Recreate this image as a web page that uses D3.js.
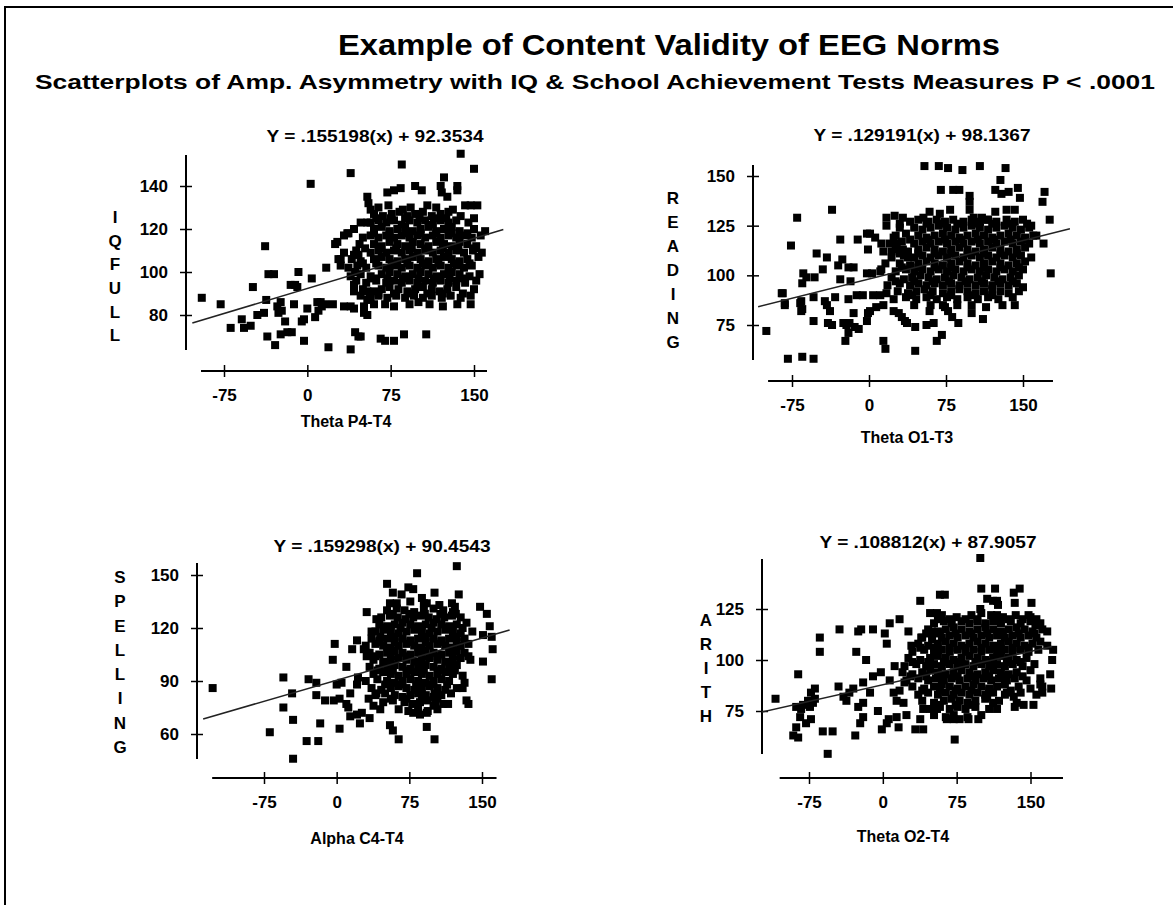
<!DOCTYPE html>
<html>
<head>
<meta charset="utf-8">
<script src="https://cdn.jsdelivr.net/npm/d3@7"></script>
<style>
  body { margin: 0; background: #fff; }
  svg text { font-family: "Liberation Sans", Arial, sans-serif; font-weight: bold; fill: #000; }
  .tick text { font-size: 17px; }
</style>
</head>
<body>
<svg id="chart" width="1173" height="905"></svg>
<script>
// ---- text ----
const mainTitle = "Example of Content Validity of EEG Norms";
const subTitle = "Scatterplots of Amp. Asymmetry with IQ & School Achievement Tests Measures P < .0001";

const xTickValues = [-75, 0, 75, 150];
const iqTicks = [80, 100, 120, 140];
const readingTicks = [75, 100, 125, 150];
const spellingTicks = [60, 90, 120, 150];
const arithTicks = [75, 100, 125];

const yTitles = ["IQFULL", "READING", "SPELLING", "ARITH"];
const xTitles = ["Theta P4-T4", "Theta O1-T3", "Alpha C4-T4", "Theta O2-T4"];
const slopes = [.155198, .129191, .159298, .108812];
const intercepts = [92.3534, 98.1367, 90.4543, 87.9057];
const equations = ["Y = .155198(x) + 92.3534", "Y = .129191(x) + 98.1367",
                   "Y = .159298(x) + 90.4543", "Y = .108812(x) + 87.9057"];

// ---- points ----
const iqPoints = [
  [-95,88],[-78,85],[-69,74],[-59,78],[-57,74],[-51,75],[-49,93],[-45,80],[-39,81],[-38,112],[-37,87],[-36,70],
  [-35,99],[-30,99],[-29,66],[-27,84],[-26,81],[-24,86],[-23,82],[-24,71],[-18,72],[-14,72],[-20,77],[-15,94],
  [-11,94],[-9,93],[-8,100],[-12,85],[-5,77],[-3,78],[-3,68],[0,83],[3,141],[4,97],[7,79],[9,86],[10,82],[12,86],
  [13,84],[16,85],[17,102],[19,65],[23,85],[25,113],[30,106],[33,117],[36,118],[33,84],[39,84],[42,83],[39,146],
  [39,64],[43,72],[46,70],[48,70],[51,81],[54,80],[54,87],[66,69],[70,68],[78,68],[87,71],[107,71],
  [85,150],[138,155],[150,148],[123,144],[135,140],[135,138],[120,140],[121,137],[126,135],[97,140],[103,138],
  [72,137],[78,138],[84,139],[54,135],[55,132],[57,129],[142,131],[147,131],[153,131],[150,125],[160,119],
  [27,114],[37,118],[42,120],[48,123],[54,123],[28,106],[33,109],[42,108],[46,108],[30,103],[37,102],[43,100],
  [39,98],[42,94],[42,91],[48,89],[54,91],[57,88],[51,84],
  [64,130],[73,131],[86,129],[93,130],[108,131],[116,130],[131,129],
  [60,127],[68,126],[76,127],[83,128],[90,126],[97,127],[104,128],[112,126],[120,127],[127,128],[138,126],
  [57,123],[64,124],[71,123],[78,124],[85,122],[92,124],[99,123],[106,124],[113,122],[120,124],[127,123],[134,124],[145,123],
  [60,120],[67,121],[74,119],[81,120],[88,121],[95,119],[102,120],[109,121],[116,119],[123,120],[130,121],[137,119],[150,120],
  [50,116],[57,117],[64,116],[71,117],[78,116],[85,117],[92,116],[99,117],[106,116],[113,117],[120,116],[127,117],[134,116],[141,117],[148,116],[156,117],
  [47,113],[60,113],[67,112],[74,114],[81,113],[88,112],[95,114],[102,113],[109,112],[116,114],[123,113],[130,112],[137,114],[144,113],[152,112],
  [44,110],[57,109],[64,110],[71,109],[78,110],[85,109],[92,110],[99,109],[106,110],[113,109],[120,110],[127,109],[134,110],[141,109],[149,110],[157,109],
  [40,106],[48,105],[60,106],[67,107],[74,106],[81,105],[88,106],[95,107],[102,106],[109,105],[116,106],[123,107],[130,106],[137,105],[144,106],[154,107],
  [45,103],[53,102],[64,103],[71,102],[78,103],[85,102],[92,103],[99,102],[106,103],[113,102],[120,103],[127,102],[134,103],[141,102],[148,103],
  [48,99],[57,98],[67,99],[74,100],[81,99],[88,98],[95,99],[102,100],[109,99],[116,98],[123,99],[130,100],[137,99],[146,98],[155,99],
  [44,96],[53,95],[62,96],[71,95],[78,96],[85,95],[92,96],[99,95],[106,96],[113,95],[120,96],[127,95],[134,96],[142,95],[152,96],
  [50,92],[60,91],[67,92],[74,93],[82,92],[90,91],[97,92],[104,93],[112,92],[119,91],[126,92],[134,93],[150,92],
  [56,88],[64,89],[72,88],[80,89],[88,88],[96,89],[104,88],[112,89],[121,88],[129,89],[138,88],[147,89],
  [60,85],[70,85],[78,84],[92,85],[100,86],[110,85],[122,84],[135,85],[147,85],
  [62,125],[75,125],[88,125],[101,125],[114,125],[125,125],
  [60,118],[74,118],[88,118],[102,118],[116,118],[130,118],[144,118],
  [52,111],[66,111],[80,111],[94,111],[108,111],[122,111],[136,111],[150,111],
  [50,104],[62,104],[76,104],[90,104],[104,104],[118,104],[132,104],[146,104],
  [60,97],[72,97],[86,97],[100,97],[114,97],[128,97],[140,97],
  [64,90],[78,90],[92,90],[108,90],[122,90],[140,90]
];

const readingPoints = [
  [54,155],[68,155],[77,154],[91,153],[108,155],[133,154],[70,143],[82,143],[88,143],[98,140],[98,137],[128,148],
  [123,143],[129,141],[136,142],[145,144],[147,139],[171,142],[169,137],[176,128],[170,116],[177,101],[-70,129],
  [-36,133],[-76,115],[-51,111],[-41,109],[-28,118],[-11,118],[-2,121],[-1,113],[-64,101],[-61,99],[-53,99],
  [-65,96],[-45,103],[-30,105],[-26,108],[-20,104],[-15,104],[-28,98],[-18,97],[-2,101],[3,101],[11,102],[-85,91],
  [-82,86],[-67,86],[-66,82],[-65,83],[-54,89],[-43,87],[-38,82],[-33,89],[-20,88],[-12,90],[-6,90],[4,90],[11,90],
  [17,91],[17,129],[25,130],[17,125],[33,129],[30,126],[1,121],[6,119],[12,116],[14,112],[22,112],[24,119],[27,116],
  [33,113],[38,109],[53,129],[59,132],[69,131],[79,133],[98,133],[102,129],[110,129],[115,128],[123,132],[134,133],
  [142,133],[154,126],[158,125],[163,120],
  [-100,72],[-79,58],[-65,59],[-54,58],[-84,91],[-82,85],[-66,87],[-54,77],[-41,85],[-40,76],[-36,75],[-25,76],
  [-22,75],[-19,76],[-15,81],[-14,74],[-10,73],[-20,71],[-23,67],[-2,77],[1,82],[-1,81],[7,84],[14,67],[16,63],
  [14,85],[24,82],[29,81],[32,79],[35,77],[37,76],[45,74],[45,62],[56,75],[63,76],[66,67],[71,70],[59,82],[72,85],
  [77,82],[81,79],[87,76],[100,81],[111,78],[142,85],[150,94],
  [40,127],[48,128],[58,127],[66,128],[74,127],[82,128],[92,127],[100,128],[108,127],[116,128],[124,127],[134,128],[142,127],[150,128],
  [30,124],[44,124],[52,123],[60,124],[68,125],[76,124],[84,123],[92,124],[100,125],[108,124],[116,123],[124,124],[132,125],[140,124],[148,123],[156,124],
  [26,120],[36,121],[48,120],[56,119],[64,120],[72,121],[80,120],[88,119],[96,120],[104,121],[112,120],[120,119],[128,120],[136,121],[144,120],[152,119],[160,120],
  [20,116],[32,117],[44,116],[52,117],[60,116],[68,117],[76,116],[84,117],[92,116],[100,117],[108,116],[116,117],[124,116],[132,117],[140,116],[148,117],[156,116],
  [26,113],[38,112],[48,113],[56,114],[64,113],[72,112],[80,113],[88,114],[96,113],[104,112],[112,113],[120,114],[128,113],[136,112],[144,113],[152,114],
  [22,109],[34,110],[44,109],[52,110],[60,109],[68,110],[76,109],[84,110],[92,109],[100,110],[108,109],[116,110],[124,109],[132,110],[140,109],[148,110],[158,109],
  [16,106],[30,106],[40,105],[48,106],[56,107],[64,106],[72,105],[80,106],[88,107],[96,106],[104,105],[112,106],[120,107],[128,106],[136,105],[144,106],[152,107],
  [12,103],[26,102],[36,103],[44,102],[52,103],[60,102],[68,103],[76,102],[84,103],[92,102],[100,103],[108,102],[116,103],[124,102],[132,103],[140,102],[150,103],
  [22,99],[34,98],[42,99],[50,100],[58,99],[66,98],[74,99],[82,100],[90,99],[98,98],[106,99],[114,100],[122,99],[130,98],[138,99],[146,100],
  [18,95],[30,96],[40,95],[48,96],[56,95],[64,96],[72,95],[80,96],[88,95],[96,96],[104,95],[112,96],[120,95],[128,96],[136,95],[144,96],
  [28,92],[38,91],[46,92],[54,93],[62,92],[72,91],[80,92],[88,93],[96,92],[104,91],[112,92],[120,93],[128,92],[136,91],[146,92],
  [24,88],[36,89],[46,88],[56,89],[66,88],[76,89],[86,88],[96,89],[106,88],[116,89],[126,88],[140,89],
  [44,85],[60,85],[74,84],[86,85],[100,85],[114,84],[130,85],
  [56,126],[70,126],[86,126],[104,126],[120,126],[138,126],
  [40,118],[58,118],[74,118],[90,118],[106,118],[122,118],[138,118],[152,118],
  [30,111],[48,111],[64,111],[80,111],[96,111],[112,111],[128,111],[144,111],
  [32,104],[48,104],[64,104],[80,104],[96,104],[112,104],[128,104],[146,104],
  [26,97],[44,97],[62,97],[78,97],[94,97],[110,97],[126,97],[140,97],
  [42,90],[60,90],[80,90],[100,90],[120,90]
];

const spellingPoints = [
  [-128,86],[-55,92],[-55,75],[-46,83],[-45,68],[-69,61],[-31,56],[-19,56],[-45,46],[-29,91],[-21,89],[-17,66],
  [3,63],[-21,82],[-12,79],[-3,79],[3,80],[10,77],[14,83],[0,88],[5,89],[-2,111],[-4,102],[10,98],[16,108],[21,113],
  [28,108],[12,75],[14,70],[21,71],[26,72],[24,66],[34,69],[45,74],[21,88],[22,92],[31,104],[36,118],[31,129],
  [41,125],[45,115],[33,80],[38,76],[41,83],[52,145],[58,140],[55,134],[55,65],[58,62],[64,57],[74,143],[79,142],
  [67,139],[88,137],[83,151],[101,140],[93,134],[124,155],[126,139],[122,132],[148,132],[155,128],[158,121],
  [160,115],[151,116],[161,108],[151,101],[160,91],[132,89],[130,86],[136,77],[134,79],[115,77],[93,64],[101,57],
  [79,72],[86,71],[93,72],[100,76],[101,83],
  [62,134],[76,135],[90,134],[106,133],[119,134],
  [52,130],[62,131],[70,130],[80,129],[90,130],[100,131],[110,130],[120,129],
  [46,126],[55,127],[63,126],[71,125],[79,126],[87,127],[95,126],[103,125],[111,126],[119,127],[128,126],
  [44,122],[52,121],[60,122],[68,123],[76,122],[84,121],[92,122],[100,123],[108,122],[116,121],[124,122],[134,123],
  [40,118],[48,119],[56,118],[64,117],[72,118],[80,119],[88,118],[96,117],[104,118],[112,119],[120,118],[128,117],[140,118],
  [36,114],[44,113],[52,114],[60,115],[68,114],[76,113],[84,114],[92,115],[100,114],[108,113],[116,114],[124,115],[132,114],
  [30,110],[40,111],[48,110],[56,109],[64,110],[72,111],[80,110],[88,109],[96,110],[104,111],[112,110],[120,109],[128,110],[136,111],
  [34,106],[44,105],[52,106],[60,107],[68,106],[76,105],[84,106],[92,107],[100,106],[108,105],[116,106],[124,107],[132,106],
  [38,102],[48,101],[56,102],[64,103],[72,102],[80,101],[88,102],[96,103],[104,102],[112,101],[120,102],[128,103],[138,102],
  [34,98],[44,97],[52,98],[60,99],[68,98],[76,97],[84,98],[92,99],[100,98],[108,97],[116,98],[124,99],
  [38,94],[48,95],[56,94],[64,93],[72,94],[80,95],[88,94],[96,93],[104,94],[112,95],[120,94],[130,93],
  [30,90],[42,91],[52,90],[60,89],[68,90],[76,91],[84,90],[92,89],[100,90],[108,91],[116,90],
  [36,86],[46,85],[56,86],[64,87],[72,86],[80,85],[88,86],[96,87],[104,86],[112,85],[124,86],
  [40,82],[50,83],[60,82],[68,81],[76,82],[84,83],[92,82],[100,81],[108,82],[118,83],
  [48,78],[58,79],[70,78],[78,77],[86,78],[94,79],[102,78],[110,77],
  [64,74],[74,73],[84,74],[94,73],[104,74],
  [58,128],[75,128],[91,128],[107,128],[123,128],
  [50,120],[66,120],[82,120],[98,120],[114,120],[130,120],
  [44,112],[60,112],[76,112],[92,112],[108,112],[124,112],
  [40,104],[56,104],[72,104],[88,104],[104,104],[120,104],[136,104],
  [42,96],[58,96],[74,96],[90,96],[106,96],[122,96],
  [50,88],[66,88],[82,88],[98,88],[114,88],
  [56,80],[72,80],[88,80],[104,80]
];

const arithPoints = [
  [-109,81],[-86,93],[-91,63],[-86,62],[-88,67],[-84,72],[-83,76],[-81,78],[-76,80],[-74,77],[-71,79],[-73,84],
  [-69,86],[-69,81],[-88,77],[-83,77],[-78,69],[-73,71],[-64,111],[-64,104],[-61,65],[-51,65],[-56,54],[-45,87],
  [-40,82],[-37,80],[-34,84],[-30,86],[-44,115],[-28,63],[-27,104],[-25,114],[-22,115],[-17,100],[-25,77],[-20,79],
  [-20,72],[-23,69],[-20,89],[-13,84],[-10,92],[-10,115],[-5,75],[-1,66],[4,69],[6,71],[-2,94],[2,113],[4,108],
  [7,118],[12,97],[17,120],[26,114],[7,90],[11,84],[14,80],[17,85],[21,79],[22,89],[14,72],[16,67],[24,73],[33,66],
  [41,66],[38,71],[41,76],[29,107],[39,111],[38,129],[48,123],[55,123],[50,114],[50,110],[58,132],[63,132],[73,61],
  [55,76],[65,71],[72,71],[78,71],[87,71],[97,71],[99,150],[100,135],[114,135],[106,130],[112,129],[116,129],
  [99,125],[117,127],[116,122],[133,133],[139,135],[134,128],[151,128],[148,122],[155,117],[167,114],[167,107],
  [170,93],[160,88],[162,84],[153,78],[143,78],[133,82],[134,77],[126,84],[116,76],[112,79],[106,82],[172,100],
  [173,105],[171,86],
  [60,122],[75,121],[90,122],[100,123],[110,122],[122,121],[135,122],[150,121],
  [52,118],[62,119],[70,118],[80,119],[88,118],[96,119],[104,118],[112,119],[120,118],[130,119],[140,118],[150,119],[160,118],
  [46,115],[56,114],[64,115],[72,116],[80,115],[88,114],[96,115],[104,116],[112,115],[120,114],[128,115],[136,116],[144,115],[152,114],[162,115],
  [40,111],[50,112],[60,111],[68,112],[76,111],[84,112],[92,111],[100,112],[108,111],[116,112],[124,111],[132,112],[140,111],[148,112],[156,111],
  [36,108],[46,107],[56,108],[64,109],[72,108],[80,107],[88,108],[96,109],[104,108],[112,107],[120,108],[128,109],[136,108],[144,107],[152,108],[160,109],
  [30,104],[42,105],[52,104],[60,105],[68,104],[76,105],[84,104],[92,105],[100,104],[108,105],[116,104],[124,105],[132,104],[140,105],[148,104],[158,105],
  [26,101],[38,100],[48,101],[56,102],[64,101],[72,100],[80,101],[88,102],[96,101],[104,100],[112,101],[120,102],[128,101],[136,100],[146,101],
  [22,97],[34,98],[44,97],[52,98],[60,97],[68,98],[76,97],[84,98],[92,97],[100,98],[108,97],[116,98],[124,97],[132,98],[142,97],[154,98],
  [20,94],[30,93],[40,94],[48,95],[56,94],[64,93],[72,94],[80,95],[88,94],[96,93],[104,94],[112,95],[120,94],[128,93],[136,94],[150,95],
  [24,90],[36,91],[46,90],[54,91],[62,90],[70,91],[78,90],[86,91],[94,90],[102,91],[110,90],[118,91],[126,90],[134,91],[146,90],[160,91],
  [30,87],[42,86],[52,87],[60,88],[68,87],[76,86],[84,87],[92,88],[100,87],[108,86],[116,87],[124,88],[138,87],[150,86],[162,87],
  [36,83],[46,84],[56,83],[64,84],[72,83],[80,84],[88,83],[96,84],[104,83],[112,84],[124,83],[140,84],[156,83],
  [40,80],[52,79],[62,80],[70,81],[78,80],[86,79],[94,80],[104,81],[118,80],[136,79],
  [48,76],[58,77],[68,76],[76,77],[84,76],[94,77],[108,76],
  [52,73],[64,72],[72,73],[86,72],[100,73],
  [56,120],[68,120],[84,120],[96,120],[116,120],[128,120],[142,120],[156,120],
  [44,113],[58,113],[74,113],[90,113],[106,113],[122,113],[138,113],[154,113],
  [38,106],[52,106],[68,106],[84,106],[100,106],[116,106],[132,106],[148,106],
  [30,99],[46,99],[62,99],[78,99],[94,99],[110,99],[126,99],[140,99],
  [28,92],[44,92],[60,92],[76,92],[92,92],[108,92],[124,92],[142,92],
  [40,85],[58,85],[74,85],[90,85],[108,85],[130,85],
  [56,78],[74,78],[90,78]
];

// ---- layout of the four panels (pixels) ----
const panels = [
  { pts: iqPoints, ticks: iqTicks, xPx: [224, 474], yVal: [80, 140], yPx: [315, 186], axisX: 186,
    yExt: [63.7, 154.4], axisY: 371, xExt: [-95.7, 161.7], fitExt: [-103.5, 176.4],
    eq: [375, 136], xTitle: [346, 421], yTitle: [115, 217, 23.7] },
  { pts: readingPoints, ticks: readingTicks, xPx: [792, 1023], yVal: [75, 150], yPx: [325, 176], axisX: 753,
    yExt: [57.4, 155.5], axisY: 381, xExt: [-98.3, 179.2], fitExt: [-108, 195.7],
    eq: [922, 135], xTitle: [907, 437], yTitle: [673, 198, 24] },
  { pts: spellingPoints, ticks: spellingTicks, xPx: [264, 482], yVal: [60, 150], yPx: [734, 575], axisX: 197,
    yExt: [45.9, 156.8], axisY: 778, xExt: [-128.5, 165], fitExt: [-137.8, 178.5],
    eq: [382, 546], xTitle: [357, 838], yTitle: [120, 577, 24.3] },
  { pts: arithPoints, ticks: arithTicks, xPx: [809, 1030.5], yVal: [75, 125], yPx: [711, 609], axisX: 762,
    yExt: [53.9, 149.5], axisY: 778, xExt: [-104.8, 183], fitExt: [-123, 172],
    eq: [928, 542], xTitle: [903, 836], yTitle: [706, 620, 24] }
];

const svg = d3.select("#chart");

// frame
svg.append("rect").attr("x", 5).attr("y", 7).attr("width", 1200).attr("height", 950)
  .attr("fill", "#fff").attr("stroke", "#000").attr("stroke-width", 2);

svg.append("text").attr("x", 669).attr("y", 55).attr("text-anchor", "middle")
  .attr("font-size", 30).attr("textLength", 662).attr("lengthAdjust", "spacingAndGlyphs")
  .text(mainTitle);
svg.append("text").attr("x", 595).attr("y", 89).attr("text-anchor", "middle")
  .attr("font-size", 21).attr("textLength", 1120).attr("lengthAdjust", "spacingAndGlyphs")
  .text(subTitle);

panels.forEach((p, i) => {
  const x = d3.scaleLinear().domain([-75, 150]).range(p.xPx);
  const y = d3.scaleLinear().domain(p.yVal).range(p.yPx);
  const g = svg.append("g");

  // y axis
  const ya = g.append("g").attr("transform", `translate(${p.axisX},0)`)
    .call(d3.axisLeft(y).tickValues(p.ticks).tickFormat(d => String(d)).tickSize(5).tickPadding(13));
  ya.select(".domain").attr("d", `M0,${y(p.yExt[1])}V${y(p.yExt[0])}`)
    .attr("stroke", "#000").attr("stroke-width", 2);
  ya.selectAll(".tick line").attr("x1", 6).attr("x2", -6).attr("stroke-width", 1.5);

  // x axis
  const xa = g.append("g").attr("transform", `translate(0,${p.axisY})`)
    .call(d3.axisBottom(x).tickValues(xTickValues).tickFormat(d => String(d)).tickSize(5).tickPadding(13));
  xa.select(".domain").attr("d", `M${x(p.xExt[0])},0H${x(p.xExt[1])}`)
    .attr("stroke", "#000").attr("stroke-width", 2);
  xa.selectAll(".tick line").attr("y1", -6).attr("y2", 6).attr("stroke-width", 1.5);

  // points
  g.append("g").selectAll("rect").data(p.pts).enter().append("rect")
    .attr("x", d => x(d[0]) - 4).attr("y", d => y(d[1]) - 4)
    .attr("width", 8).attr("height", 8).attr("fill", "#000");

  // regression line
  g.append("line")
    .attr("x1", x(p.fitExt[0])).attr("y1", y(slopes[i] * p.fitExt[0] + intercepts[i]))
    .attr("x2", x(p.fitExt[1])).attr("y2", y(slopes[i] * p.fitExt[1] + intercepts[i]))
    .attr("stroke", "#222").attr("stroke-width", 1.5);

  g.append("text").attr("x", p.eq[0]).attr("y", p.eq[1]).attr("dy", "0.35em")
    .attr("text-anchor", "middle").attr("font-size", 16)
    .attr("textLength", 217).attr("lengthAdjust", "spacingAndGlyphs").text(equations[i]);

  g.append("text").attr("x", p.xTitle[0]).attr("y", p.xTitle[1]).attr("dy", "0.35em")
    .attr("text-anchor", "middle").attr("font-size", 16).text(xTitles[i]);

  g.append("g").selectAll("text").data(yTitles[i].split("")).enter().append("text")
    .attr("x", p.yTitle[0]).attr("y", (d, k) => p.yTitle[1] + k * p.yTitle[2]).attr("dy", "0.35em")
    .attr("text-anchor", "middle").attr("font-size", 17).text(d => d);
});
</script>
</body>
</html>
